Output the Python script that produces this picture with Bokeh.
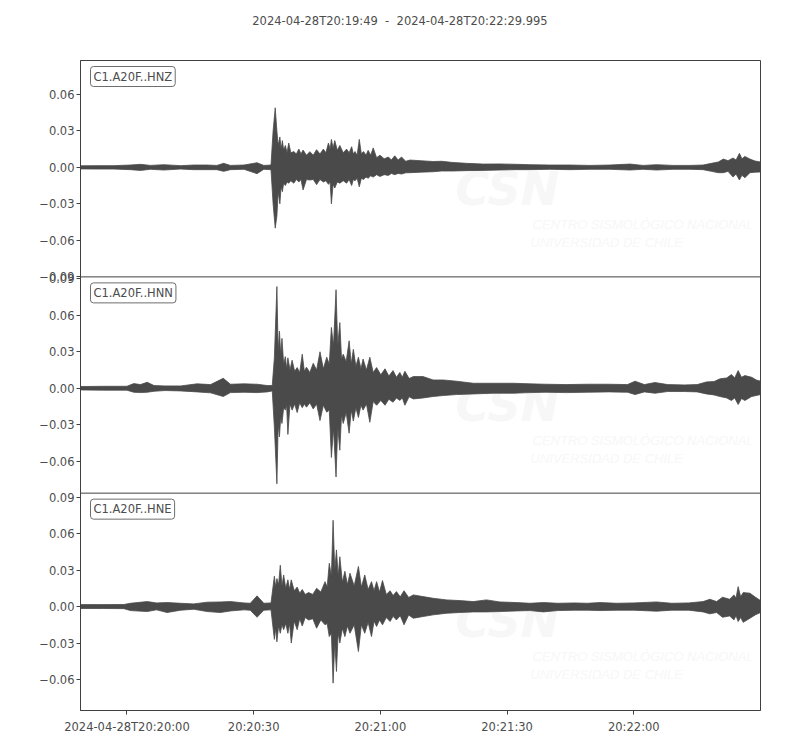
from bokeh.embed import file_html
from bokeh.layouts import column
from bokeh.models import Div, FixedTicker, Label, Range1d, Span
from bokeh.plotting import figure
from bokeh.resources import INLINE

start_label = "2024-04-28T20:19:49"
end_label = "2024-04-28T20:22:29.995"
duration = 160.995  # seconds shown

channels = ["C1.A20F..HNZ", "C1.A20F..HNN", "C1.A20F..HNE"]

# envelopes: (seconds after 20:19:49, max, min)
hnz = [(0, .0013, -.0013), (3.9, .0014, -.0014), (7.9, .0014, -.0014), (11.8, .0019, -.0019),
       (14.2, .0025, -.0025), (16.6, .0016, -.0016), (19.7, .0022, -.0022), (23.7, .0014, -.0014),
       (26.8, .0019, -.0019), (30.0, .0019, -.0019), (32.3, .0016, -.0019), (33.9, .0033, -.0033),
       (35.5, .0016, -.0019), (38.7, .0019, -.0016), (41.8, .0038, -.0052), (43.4, .0016, -.0016),
       (45.1, .0019, -.0019), (45.6, .030, -.030), (46.1, .049, -.050), (46.5, .030, -.040),
       (46.8, .018, -.020), (47.2, .025, -.030), (47.5, .015, -.016), (47.8, .022, -.020),
       (48.1, .014, -.013), (48.5, .018, -.015), (48.9, .012, -.012), (49.3, .020, -.013),
       (49.8, .012, -.011), (50.5, .013, -.013), (51.1, .011, -.010), (51.7, .015, -.012),
       (52.2, .011, -.010), (52.7, .0142, -.0186), (53.5, .010, -.010), (54.3, .0129, -.0104),
       (55.1, .010, -.010), (55.9, .0145, -.0142), (56.7, .011, -.010), (57.5, .015, -.012),
       (58.1, .012, -.011), (58.7, .020, -.014), (59.1, .015, -.012), (59.4, .023, -.030),
       (59.8, .016, -.014), (60.2, .022, -.017), (60.8, .014, -.012), (61.4, .018, -.013),
       (62.2, .012, -.011), (63.0, .015, -.013), (63.6, .012, -.010), (64.2, .017, -.015),
       (64.6, .011, -.010), (65.0, .013, -.011), (65.5, .010, -.009), (66.0, .023, -.016),
       (66.5, .011, -.009), (67.0, .013, -.010), (67.6, .010, -.008), (68.1, .014, -.009),
       (68.7, .010, -.007), (69.3, .016, -.008), (70.1, .008, -.006), (70.9, .010, -.0075),
       (71.9, .007, -.006), (72.9, .0085, -.0066), (73.6, .006, -.005), (74.4, .0095, -.006),
       (75.2, .006, -.005), (76.0, .0085, -.0055), (77.0, .005, -.0045), (78.0, .006, -.0044),
       (80.4, .0055, -.004), (83.5, .0048, -.0036), (85.5, .005, -.003), (88.2, .004, -.003),
       (91.4, .0033, -.0027), (95.3, .0027, -.0025), (99.3, .0028, -.0022), (103.2, .0025, -.0019),
       (106.4, .0022, -.0019), (111.1, .0019, -.0016), (115.9, .0019, -.0019), (120.6, .0016, -.0016),
       (125.3, .0019, -.0016), (130.1, .0027, -.0022), (133.2, .0016, -.0016), (136.4, .0022, -.0022),
       (140.3, .0016, -.0016), (144.3, .0016, -.0016), (147.4, .0019, -.0019), (149.4, .0033, -.0033),
       (151.0, .0044, -.0044), (152.2, .0068, -.0044), (153.3, .0055, -.0033), (154.5, .0077, -.0080),
       (155.2, .0060, -.0055), (156.0, .0115, -.0104), (156.6, .0070, -.0065), (157.3, .009, -.0085),
       (158.5, .0068, -.0044), (159.7, .0052, -.0040), (161.0, .0044, -.0038)]

hnn = [(0, .0014, -.0014), (5.5, .0016, -.0016), (11.0, .0016, -.0016), (12.6, .0038, -.0033),
       (14.2, .0030, -.0036), (15.8, .0049, -.0033), (17.4, .0022, -.0025), (20.0, .0019, -.0019),
       (23.7, .0019, -.0022), (27.6, .0036, -.0030), (30.8, .0030, -.0038), (33.8, .0082, -.0068),
       (35.5, .0033, -.0036), (38.7, .0036, -.0033), (41.8, .0033, -.0036), (44.2, .0022, -.0030),
       (45.4, .0022, -.0022), (45.9, .025, -.032), (46.5, .0836, -.0786), (46.8, .030, -.030),
       (47.1, .047, -.040), (47.4, .028, -.024), (47.7, .041, -.029), (48.1, .020, -.016),
       (48.5, .026, -.018), (48.8, .016, -.014), (49.1, .025, -.038), (49.6, .015, -.013),
       (50.1, .023, -.018), (50.7, .014, -.013), (51.3, .017, -.020), (51.9, .013, -.012),
       (52.5, .028, -.016), (53.0, .014, -.013), (53.5, .0173, -.0156), (54.3, .013, -.012),
       (55.1, .0205, -.017), (55.9, .015, -.013), (56.7, .030, -.0266), (57.5, .016, -.014),
       (58.3, .0255, -.0197), (58.9, .020, -.018), (59.4, .050, -.057), (59.9, .035, -.033),
       (60.5, .081, -.073), (60.9, .035, -.032), (61.4, .054, -.051), (61.8, .024, -.022),
       (62.2, .028, -.029), (62.9, .022, -.020), (63.6, .039, -.037), (64.1, .020, -.018),
       (64.6, .032, -.027), (65.2, .018, -.016), (65.8, .0255, -.024), (66.4, .016, -.014),
       (66.9, .024, -.018), (67.7, .015, -.013), (68.5, .0255, -.028), (69.3, .013, -.011),
       (70.1, .017, -.014), (71.1, .011, -.010), (72.1, .016, -.014), (73.0, .010, -.009),
       (74.0, .0145, -.0115), (74.8, .009, -.008), (75.6, .013, -.010), (76.2, .009, -.008),
       (76.8, .014, -.014), (77.8, .008, -.007), (78.8, .0096, -.0088), (81.1, .0096, -.008),
       (83.5, .0068, -.0068), (85.9, .0068, -.006), (89.0, .0058, -.0052), (93.0, .0041, -.0047),
       (97.7, .0041, -.0041), (102.4, .0041, -.0041), (106.4, .0036, -.0036), (110.0, .0033, -.0033),
       (115.0, .0030, -.0036), (120.0, .0033, -.0033), (125.0, .0033, -.0030), (129.5, .0030, -.0033),
       (131.3, .0058, -.0052), (133.5, .0030, -.0030), (136.0, .0047, -.0041), (139.0, .0030, -.0027),
       (143.0, .0027, -.0027), (146.0, .0030, -.0030), (148.2, .0052, -.0047), (150.0, .0055, -.0055),
       (151.4, .0077, -.0068), (153.0, .0085, -.0080), (154.1, .0112, -.0101), (154.9, .0085, -.0080),
       (155.7, .0145, -.0134), (156.5, .0090, -.0085), (157.3, .0104, -.0101), (158.9, .009, -.0068),
       (160.0, .0068, -.0060), (161.0, .0058, -.0052)]

hne = [(0, .0016, -.0016), (5.5, .0016, -.0016), (10.3, .0017, -.0017), (11.8, .0027, -.0033),
       (15.8, .0041, -.0041), (18.0, .0030, -.0027), (20.5, .0033, -.0049), (23.7, .0027, -.0030),
       (26.8, .0022, -.0022), (30.0, .0036, -.0041), (33.1, .0038, -.0049), (35.5, .0041, -.0036),
       (38.7, .0030, -.0027), (40.2, .0027, -.0030), (41.8, .0088, -.0088), (43.4, .0027, -.0030),
       (45.1, .0030, -.0027), (45.9, .025, -.027), (46.2, .016, -.018), (46.5, .023, -.029),
       (46.9, .018, -.016), (47.3, .034, -.022), (47.7, .017, -.015), (48.1, .026, -.019),
       (48.6, .015, -.014), (49.1, .022, -.022), (49.5, .014, -.014), (49.9, .022, -.030),
       (50.6, .013, -.012), (51.3, .016, -.019), (51.9, .011, -.010), (52.5, .014, -.016),
       (53.2, .010, -.009), (54.0, .0115, -.011), (55.0, .010, -.010), (55.9, .015, -.0178),
       (56.9, .012, -.011), (57.9, .0205, -.015), (58.4, .016, -.014), (58.9, .0356, -.0247),
       (59.4, .025, -.022), (59.8, .071, -.063), (60.2, .030, -.030), (60.6, .0466, -.0534),
       (61.0, .025, -.022), (61.4, .041, -.030), (62.0, .020, -.018), (62.6, .029, -.0247),
       (63.2, .018, -.016), (63.8, .0274, -.022), (64.8, .017, -.015), (65.8, .033, -.037),
       (66.5, .016, -.015), (67.3, .026, -.022), (68.1, .014, -.013), (68.9, .0205, -.0247),
       (69.5, .013, -.012), (70.1, .0205, -.0164), (70.8, .012, -.011), (71.5, .0214, -.015),
       (72.4, .010, -.009), (73.3, .013, -.0123), (74.0, .009, -.008), (74.8, .0123, -.011),
       (75.7, .008, -.0075), (76.6, .013, -.015), (77.7, .0075, -.007), (78.8, .0096, -.0096),
       (81.1, .0082, -.0082), (83.5, .0068, -.0068), (86.7, .0055, -.0055), (89.8, .0049, -.0049),
       (93.0, .0041, -.0044), (96.1, .0055, -.0044), (99.3, .0038, -.0041), (103.2, .0033, -.0036),
       (106.4, .0027, -.0033), (109.6, .0033, -.0044), (113.0, .0027, -.0033), (117.0, .0030, -.0030),
       (120.0, .0027, -.0030), (123.0, .0033, -.0033), (127.0, .0027, -.0030), (131.0, .0030, -.0030),
       (136.4, .0038, -.0038), (140.0, .0027, -.0030), (144.0, .0030, -.0030), (147.4, .0041, -.0044),
       (149.0, .006, -.006), (150.6, .0041, -.0049), (152.0, .0077, -.0088), (153.7, .006, -.0077),
       (154.7, .0096, -.011), (155.2, .0070, -.0075), (155.7, .0164, -.0123), (156.3, .0080, -.0090),
       (156.9, .0115, -.013), (158.5, .011, -.0096), (159.8, .0077, -.0068), (161.0, .0049, -.0049)]

y_limits = [(-0.0901, 0.0879), (-0.0863, 0.0916), (-0.0855, 0.0933)]
y_ticks = [[-0.09, -0.06, -0.03, 0.0, 0.03, 0.06],
           [-0.06, -0.03, 0.0, 0.03, 0.06, 0.09],
           [-0.06, -0.03, 0.0, 0.03, 0.06, 0.09]]
x_ticks = [11, 41, 71, 101, 131]
x_tick_labels = ["2024-04-28T20:20:00", "20:20:30", "20:21:00", "20:21:30", "20:22:00"]

traces = [hnz, hnn, hne]

INK = "#4a4a4a"
TEXT = "#4d4d4d"
FRAME = "#404040"
FONT = "DejaVu Sans"
MARK = "#f7f7f7"
FRAME_W, FRAME_H = 680, 650

# stack the three panels on one y scale, bottom panel first
offsets = [0.0, 0.0, 0.0]
base = 0.0
for i in (2, 1, 0):
    lo, hi = y_limits[i]
    offsets[i] = base - lo
    base += hi - lo
total = base
upp = total / FRAME_H  # data units per pixel


def fmt(v):
    s = "%.2f" % abs(v)
    return ("\u2212" + s) if v < 0 else s


title = Div(text=start_label + "  -  " + end_label, width=800, height=60, margin=0,
            styles={"width": "800px", "text-align": "center", "white-space": "pre",
                    "font-family": FONT, "font-size": "11.5px", "color": TEXT,
                    "padding-top": "13px", "box-sizing": "border-box"})

p = figure(width=800, height=690, x_range=Range1d(0, duration), y_range=Range1d(0, total),
           output_backend="svg", toolbar_location=None, margin=0,
           min_border_left=80, min_border_right=40, min_border_top=0, min_border_bottom=40)
p.grid.visible = False
p.outline_line_color = FRAME
p.outline_line_width = 1

tick_pos = []
tick_text = {}
for i, rows in enumerate(traces):
    off = offsets[i]
    top = y_limits[i][1] + off
    t = [r[0] for r in rows]
    hi = [r[1] + off for r in rows]
    lo = [r[2] + off for r in rows]

    # faint CSN watermark behind the trace
    xs = duration / FRAME_W
    p.add_layout(Label(x=375 * xs, y=top - 101 * upp, text="CSN", text_font=FONT,
                       text_font_size="46px", text_font_style="bold italic",
                       text_color=MARK, text_baseline="top", level="underlay"))
    p.add_layout(Label(x=452 * xs, y=top - 156 * upp, text="CENTRO SISMOLÓGICO NACIONAL",
                       text_font="Liberation Sans", text_font_size="13px",
                       text_font_style="italic", text_color=MARK,
                       text_baseline="top", level="underlay"))
    p.add_layout(Label(x=450 * xs, y=top - 174 * upp, text="UNIVERSIDAD DE CHILE",
                       text_font="Liberation Sans", text_font_size="13px",
                       text_font_style="italic", text_color=MARK,
                       text_baseline="top", level="underlay"))

    p.varea(x=t, y1=lo, y2=hi, fill_color=INK)
    p.line(x=t, y=hi, line_color=INK, line_width=0.8)
    p.line(x=t, y=lo, line_color=INK, line_width=0.8)

    p.add_layout(Label(x=0, y=top, x_offset=10, y_offset=-6, text=channels[i],
                       text_font=FONT, text_font_size="11.5px", text_color=TEXT,
                       text_baseline="top", padding=3, border_radius=3,
                       border_line_color="#6e6e6e", border_line_width=1,
                       background_fill_color="white"))

    if i > 0:
        p.add_layout(Span(location=top, dimension="width", line_color=FRAME, line_width=1))

    for v in y_ticks[i]:
        pos = round(v + off, 6)
        tick_pos.append(pos)
        tick_text[pos] = fmt(v)

p.yaxis.ticker = FixedTicker(ticks=tick_pos)
p.yaxis.major_label_overrides = tick_text
p.xaxis.ticker = FixedTicker(ticks=x_ticks)
p.xaxis.major_label_overrides = dict(zip(x_ticks, x_tick_labels))
for ax in (p.xaxis, p.yaxis):
    ax.axis_line_color = FRAME
    ax.major_tick_line_color = FRAME
    ax.major_tick_in = 0
    ax.major_tick_out = 4
    ax.minor_tick_line_color = None
    ax.major_label_text_font = FONT
    ax.major_label_text_font_size = "11.5px"
    ax.major_label_text_color = TEXT
p.yaxis.major_label_standoff = 2
p.xaxis.major_label_standoff = 5

layout = column(title, p, spacing=0, margin=0)
open("out.html", "w").write(file_html(layout, INLINE))
